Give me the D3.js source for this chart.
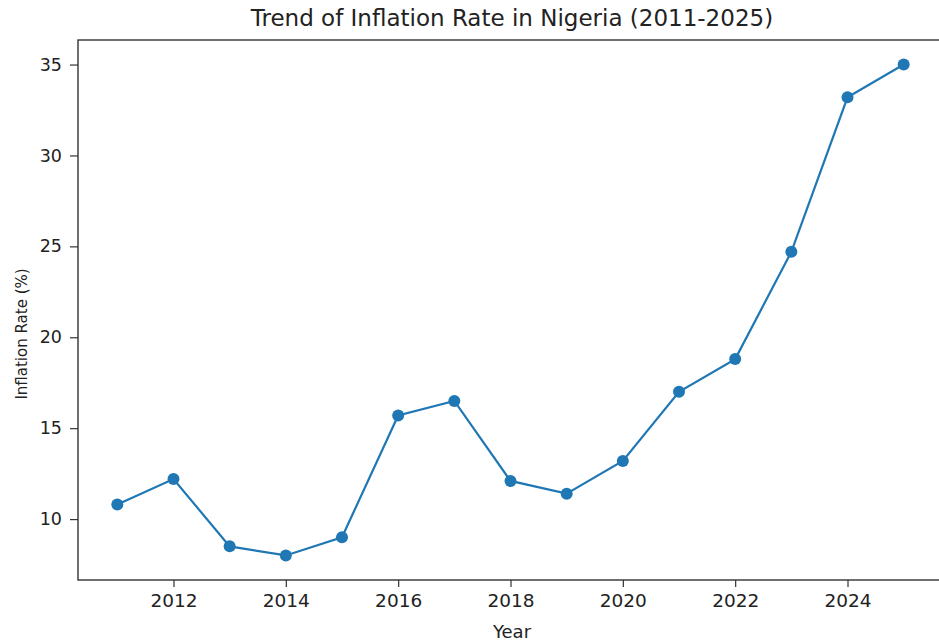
<!DOCTYPE html>
<html><head><meta charset="utf-8">
<script src="https://cdn.jsdelivr.net/npm/d3@7"></script>
<style>body{margin:0;background:#fff}svg{display:block}text{font-family:"DejaVu Sans",sans-serif;fill:#222}</style>
</head><body>
<script>
const years = [2011,2012,2013,2014,2015,2016,2017,2018,2019,2020,2021,2022,2023,2024,2025];
const inflation = [10.8,12.2,8.5,8.0,9.0,15.7,16.5,12.1,11.4,13.2,17.0,18.8,24.7,33.2,35.0];
const xTicks = [2012,2014,2016,2018,2020,2022,2024];
const yTicks = [10,15,20,25,30,35];
const title = "Trend of Inflation Rate in Nigeria (2011-2025)";

const W = 939, H = 644;
const m = {l:78, t:40, b:64};
const svg = d3.select("body").append("svg").attr("width",W).attr("height",H);
const x0 = d3.min(years), x1 = d3.max(years), xs = (x1-x0)*0.05;
const y0 = d3.min(inflation), y1 = d3.max(inflation), ys = (y1-y0)*0.05;
const x = d3.scaleLinear().domain([x0-xs, x1+xs]).range([m.l, m.l + 865]);
const y = d3.scaleLinear().domain([y0-ys, y1+ys]).range([H-m.b, m.t]);

const g = svg.append("g");
g.append("g").attr("transform",`translate(0,${H-m.b})`)
  .call(d3.axisBottom(x).tickValues(xTicks).tickFormat(d3.format("d")).tickSize(7).tickPadding(7))
  .call(a=>{a.select(".domain").remove();a.selectAll("text").attr("font-size",18.5).attr("fill","#222");a.selectAll("line").attr("stroke","#333").attr("stroke-width",1.2);});
g.append("g").attr("transform",`translate(${m.l},0)`)
  .call(d3.axisLeft(y).tickValues(yTicks).tickSize(8).tickPadding(8))
  .call(a=>{a.select(".domain").remove();a.selectAll("text").attr("font-size",17.5).attr("fill","#222");a.selectAll("line").attr("stroke","#333").attr("stroke-width",1.2);});

svg.append("clipPath").attr("id","c").append("rect").attr("x",m.l).attr("y",m.t).attr("width",W-m.l).attr("height",H-m.b-m.t);
const pg = svg.append("g").attr("clip-path","url(#c)");
const line = d3.line().x((d,i)=>x(years[i])).y(d=>y(d));
pg.append("path").datum(inflation).attr("d",line).attr("fill","none").attr("stroke","#1f77b4").attr("stroke-width",2.2);
pg.selectAll("circle").data(inflation).join("circle").attr("cx",(d,i)=>x(years[i])).attr("cy",d=>y(d)).attr("r",6).attr("fill","#1f77b4");

svg.append("rect").attr("x",m.l).attr("y",m.t).attr("width",W-m.l+5).attr("height",H-m.b-m.t)
  .attr("fill","none").attr("stroke","#333").attr("stroke-width",1.4);

svg.append("text").attr("x",512).attr("y",26).attr("text-anchor","middle").attr("font-size",23).text(title);
svg.append("text").attr("x",512).attr("y",638).attr("text-anchor","middle").attr("font-size",18).text("Year");
svg.append("text").attr("transform",`translate(27,334) rotate(-90)`).attr("text-anchor","middle").attr("font-size",15).text("Inflation Rate (%)");
</script>
</body></html>
